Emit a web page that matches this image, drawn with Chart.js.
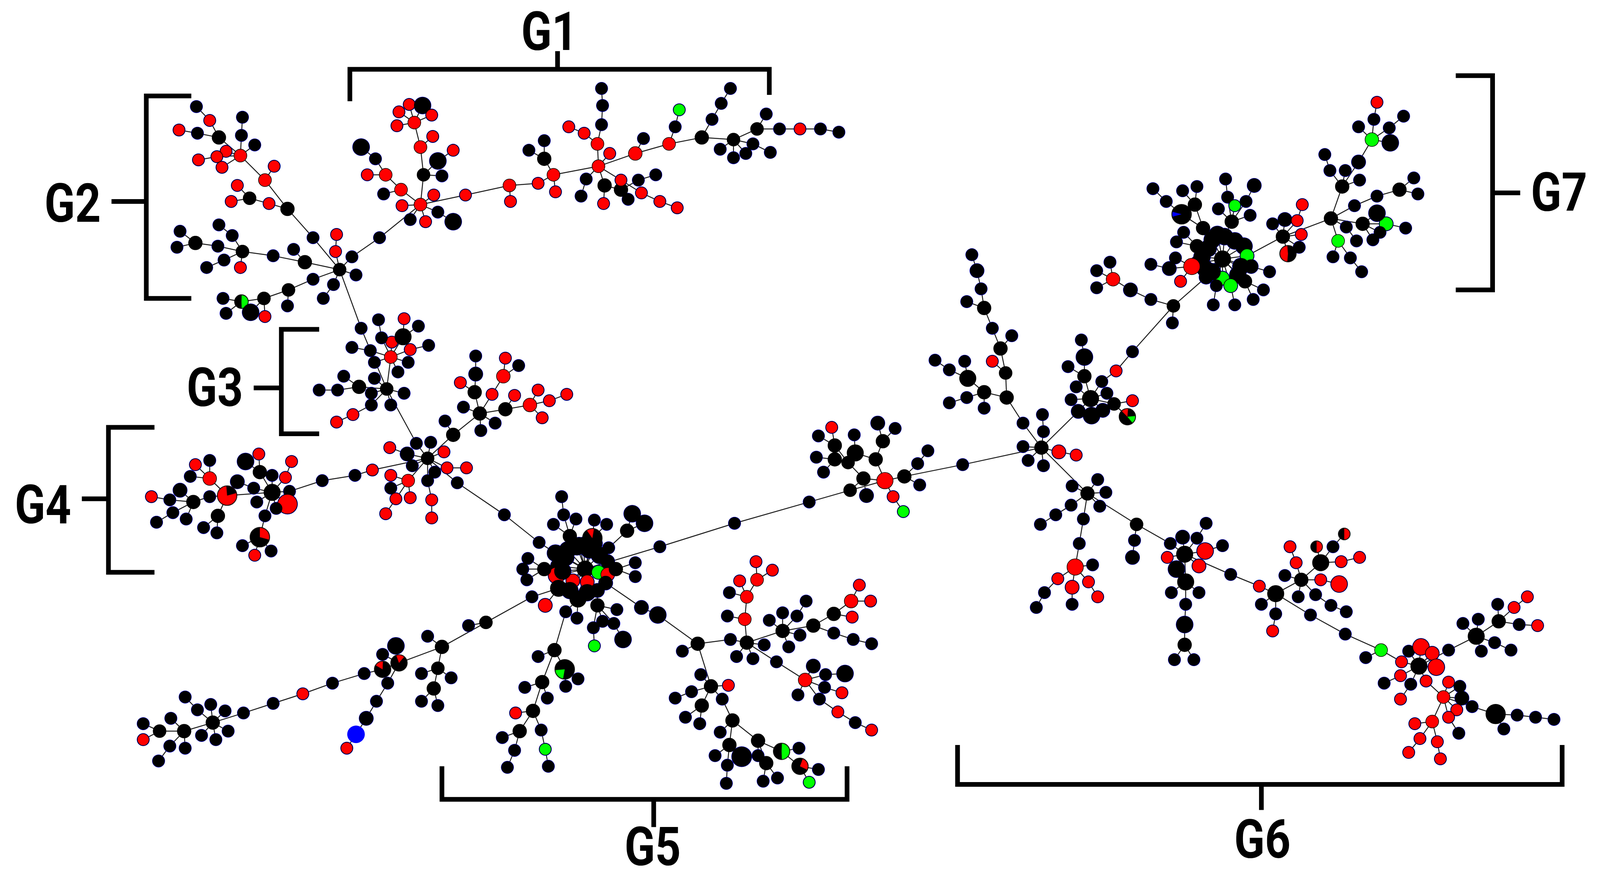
<!DOCTYPE html>
<html>
<head>
<meta charset="utf-8">
<style>html,body{margin:0;padding:0;background:#fff;overflow:hidden}canvas{display:block}</style>
<script src="https://cdn.jsdelivr.net/npm/chart.js@4"></script>
</head>
<body>
<canvas id="c"></canvas>
<script>
// Each chain is a path through the network: [x, y, kind, sizeClass]. Kinds: k r g b or a mixed-node name.
const chainsG2 = [
[[332,253],[306,223],[281,196,'k',2],[259,169,'r'],[235,146,'r']],
[[259,169],[268,156,'r']],
[[281,196],[263,191,'r'],[244,186],[232,174,'r']],
[[244,186],[226,189,'r']],
[[235,146],[236,127],[237,110]],
[[235,146],[249,136]],
[[235,146],[214,129,'k',2],[205,113,'r'],[192,100]],
[[214,129],[193,125],[175,122,'r']],
[[235,146],[221,142,'r']],
[[235,146],[212,147,'r'],[194,150,'r']],
[[235,146],[217,157,'r']],
[[332,253],[298,246,'k',2],[267,240],[237,236],[213,231],[191,228,'k',2],[176,217]],
[[191,228],[173,232]],
[[237,236],[227,221],[214,211]],
[[237,236],[219,244],[202,251]],
[[237,236],[235,251,'r']],
[[298,246],[287,234]],
[[332,253],[328,236,'r'],[329,220,'r']],
[[332,253],[348,258]],
[[332,253],[326,267],[316,280]],
[[332,253],[306,262],[282,272],[258,280],[236,283,'halfGreen',2],[218,280]],
[[236,283],[221,294]],
[[258,280],[245,293,'k',3]],
[[258,280],[259,297,'r']],
[[282,272],[281,287]]
];
const chainsG1 = [
[[332,253],[344,241],[371,223],[411,192,'r']],
[[411,192],[393,193,'r']],
[[411,192],[401,206]],
[[411,192],[416,208,'r']],
[[411,192],[428,199],[443,208,'k',3]],
[[411,192],[424,183,'r']],
[[411,192],[392,178,'r'],[377,164,'r'],[367,149],[353,138,'k',3]],
[[392,178],[375,182]],
[[377,164],[359,164,'r']],
[[411,192],[414,164],[411,138,'r'],[405,115,'r'],[400,98,'r']],
[[414,164],[432,165]],
[[414,164],[428,151,'k',3],[443,141,'r']],
[[411,138],[423,128,'r']],
[[405,115],[388,118,'r']],
[[405,115],[390,105,'r']],
[[405,115],[413,99,'k',3]],
[[405,115],[422,108,'r']],
[[411,192],[455,183,'r'],[498,174,'r'],[526,172,'r'],[541,164,'r'],[585,156,'r']],
[[498,174],[499,189,'r']],
[[541,164],[543,180,'r']],
[[541,164],[532,149,'k',2],[517,141]],
[[532,149],[532,132]],
[[585,156],[584,135,'r'],[588,117],[589,99],[588,83]],
[[584,135],[571,125,'r'],[556,119,'r']],
[[585,156],[596,144,'r']],
[[585,156],[621,144,'r',2],[654,135,'r'],[686,129,'k',2],[717,131],[740,121],[762,121],[782,121,'r'],[802,121],[820,124]],
[[621,144],[629,130]],
[[654,135],[660,119],[664,103,'g']],
[[686,129],[696,112],[705,97],[714,83]],
[[717,131],[704,140]],
[[717,131],[717,148]],
[[717,131],[729,144]],
[[717,131],[736,135],[753,143]],
[[740,121],[749,107]],
[[585,156],[573,168],[568,184]],
[[585,156],[591,174,'k',2],[590,191,'r']],
[[591,174],[607,178,'k',2],[614,187]],
[[585,156],[607,169,'r'],[627,181,'r'],[645,189,'r'],[662,195,'r']],
[[607,178],[624,169],[641,164]]
];
const chainsG3 = [
[[332,253],[353,308],[378,365],[407,416],[418,430]],
[[378,365],[382,335,'r']],
[[382,335],[362,329],[344,326]],
[[382,335],[366,340]],
[[382,335],[399,340]],
[[382,335],[389,349]],
[[382,335],[383,321,'r']],
[[382,335],[401,328,'r'],[419,324]],
[[382,335],[394,316,'k',3],[395,299,'r']],
[[394,316],[409,306]],
[[382,335],[373,317],[370,300]],
[[378,365],[351,363,'k',2],[330,366],[312,366]],
[[351,363],[336,353]],
[[378,365],[366,355]],
[[378,365],[395,369]],
[[378,365],[363,369]],
[[378,365],[363,380],[345,389,'r'],[329,396,'r']],
[[378,365],[382,380]]
];
const chainsG4 = [
[[418,430],[421,415]],
[[418,430],[398,426,'k',2],[381,420,'r']],
[[418,430],[434,424,'r']],
[[418,430],[403,437]],
[[418,430],[425,443]],
[[418,430],[437,439,'r'],[456,439,'r']],
[[418,430],[399,451,'r'],[382,446,'r']],
[[399,451],[382,458]],
[[399,451],[387,468,'r'],[377,482,'r']],
[[399,451],[401,467,'r']],
[[418,430],[418,451],[422,469,'r'],[422,486,'r']],
[[418,430],[447,453],[493,483],[527,509],[543,519,'k',3]],
[[418,430],[443,408,'k',2],[469,388,'k',2]],
[[443,408],[435,395]],
[[469,388],[453,382]],
[[469,388],[470,404]],
[[469,388],[484,397]],
[[469,388],[464,368,'k',2],[465,351,'k',2],[465,334]],
[[464,368],[450,359,'r']],
[[469,388],[481,370,'r'],[492,353,'r',2],[494,336,'r']],
[[492,353],[507,343]],
[[469,388],[494,384,'k',2],[518,380,'r',2],[526,366,'r']],
[[494,384],[503,371,'r']],
[[518,380],[537,376,'r'],[554,370,'r']],
[[518,380],[530,392,'r']],
[[418,430],[364,441,'r'],[347,446],[315,451],[283,461],[266,462,'k',3]],
[[266,462],[281,473,'r',4]],
[[266,462],[270,477]],
[[266,462],[279,448,'r'],[285,433,'r']],
[[266,462],[266,446]],
[[266,462],[254,443,'k',2],[253,426,'r']],
[[254,443],[240,433,'k',3]],
[[266,462],[248,458],[232,452,'k',2]],
[[266,462],[251,471]],
[[266,462],[259,484],[254,504,'wedgeB',4],[237,512]],
[[254,504],[265,517]],
[[254,504],[249,521,'r']],
[[266,462],[222,465,'wedgeA',4],[205,449,'r',2],[191,436,'r']],
[[205,449],[205,432]],
[[205,449],[186,447]],
[[222,465],[205,466],[189,471,'k',2],[176,460,'k',2]],
[[189,471],[166,469],[148,466,'r']],
[[189,471],[169,481],[153,490]],
[[189,471],[182,487]],
[[222,465],[213,484,'k',2],[199,495]],
[[213,484],[212,500]]
];
const ringCentral = [
[543,519,'k',3],[555,516,'k',3],[564,513,'k',3],[576,516,'k',3],[586,521,'k',3],[594,527,'k',2],
[545,531,'k',2],[544,540,'r',3],[560,545,'r',2],[574,546,'r',2],[585,537,'g',2],[594,539,'r',2],
[602,534,'k',2],[592,547,'k',2],[584,554,'k',2],[574,556,'k',3],[565,562,'k',3],[557,554,'k',3],[546,552,'k',3],
[553,523,'k',3],[566,512,'k',3],[578,513,'k',3],[550,536,'k',3],[570,512,'k',3],[582,510,'k',2]
];
const chainsG5 = [
[[545,531],[532,534,'k',2],[516,524]],
[[532,534],[511,534]],
[[532,534],[515,544]],
[[546,552],[533,568,'r',2]],
[[546,552],[520,560],[475,584,'k',1],[432,607,'k',2],[390,622,'wedgeC',3],[374,628,'wedgeD',3],[356,632],[325,641],[296,651,'r'],[267,660],[238,669],[208,678,'k',2]],
[[475,584],[458,587]],
[[432,607],[418,597]],
[[432,607],[428,627],[412,632]],
[[428,627],[441,636]],
[[428,627],[424,646,'k',2],[412,658]],
[[424,646],[428,662]],
[[390,622],[387,606,'k',3]],
[[390,622],[374,614]],
[[390,622],[379,641],[368,658],[358,674,'k',2],[348,689,'b',3],[339,702,'r']],
[[208,678],[193,666],[181,654]],
[[208,678],[206,661]],
[[208,678],[220,667]],
[[208,678],[223,686]],
[[208,678],[211,694]],
[[208,678],[197,690]],
[[208,678],[180,686,'k',2],[167,674]],
[[180,686],[156,686],[140,679]],
[[156,686],[140,694,'r']],
[[180,686],[166,700],[155,714]],
[[180,686],[181,702]],
[[555,516],[557,503,'k',2],[541,492]],
[[557,503],[551,483],[549,466]],
[[557,503],[563,487]],
[[576,516],[579,505,'wedgeE',4],[581,488]],
[[579,505],[593,492]],
[[586,521],[595,514],[613,498,'k',2],[618,482,'k',3]],
[[613,498],[630,491,'k',3]],
[[602,534],[621,528]],
[[602,534],[621,541]],
[[572,534],[645,513],[718,491],[791,471],[831,460],[865,451,'r',3]],
[[592,547],[627,570,'k',2],[643,577,'k',3],[682,604,'k',2]],
[[584,554],[584,568,'k',2],[603,572]],
[[584,568],[589,583]],
[[584,568],[600,585],[609,600,'k',3]],
[[584,568],[580,589],[581,606,'g']],
[[565,562],[553,574],[542,610,'k',2]],
[[565,562],[564,580]],
[[542,610],[526,616]],
[[542,610],[552,628,'wedgeF',4],[565,637]],
[[552,628],[553,644]],
[[542,610],[530,640,'k',2],[513,645]],
[[530,640],[535,655]],
[[530,640],[521,667,'k',2],[504,669,'r']],
[[521,667],[508,686,'k',2],[491,692]],
[[508,686],[503,704],[496,720]],
[[521,667],[529,685],[533,703,'g'],[536,719]],
[[682,604],[667,611]],
[[682,604],[714,600],[730,603,'k',2]],
[[730,603],[747,605]],
[[730,603],[720,616]],
[[730,603],[736,618]],
[[730,603],[728,581,'r'],[730,560,'r'],[713,556]],
[[728,581],[711,578]],
[[730,560],[723,545,'r']],
[[730,560],[740,544,'r'],[739,527,'r']],
[[740,544],[755,535,'r']],
[[730,603],[765,592,'k',2],[752,582]],
[[765,592],[765,575]],
[[765,592],[779,578],[788,564]],
[[765,592],[782,596]],
[[765,592],[771,607]],
[[765,592],[795,587,'k',2],[815,576,'k',2],[832,564,'r',2],[851,564,'r']],
[[832,564],[840,549,'r']],
[[815,576],[833,579,'r']],
[[795,587],[815,594],[834,600],[852,604]],
[[730,603],[759,621],[787,638,'r',2],[795,625,'k',2]],
[[787,638],[807,633],[826,632,'k',3]],
[[787,638],[806,645],[823,650,'r']],
[[787,638],[780,652]],
[[787,638],[801,656],[819,668,'r'],[836,678],[852,685,'r']],
[[682,604],[695,644,'k',2],[712,643,'r']],
[[695,644],[685,633]],
[[695,644],[676,649],[660,655]],
[[695,644],[686,662,'k',2],[670,673]],
[[686,662],[684,679]],
[[695,644],[706,656],[716,676,'k',2],[704,687]],
[[716,676],[713,699,'k',2],[699,709]],
[[713,699],[711,718],[710,735]],
[[716,676],[741,695,'k',2],[764,705,'halfGreen',3],[781,702]],
[[764,705],[782,719,'wedgeH',3],[800,722]],
[[782,719],[791,734,'g']],
[[741,695],[741,709],[725,710,'k',4]],
[[741,695],[749,716,'k',2],[746,733]],
[[749,716],[760,730]]
];
const chainsMid = [
[[865,451],[844,449,'k',2],[831,460]],
[[844,449],[847,465,'k',2]],
[[844,449],[829,434],[816,431,'k',2],[798,429]],
[[816,431],[805,443]],
[[829,434],[816,418,'k',2],[813,401,'r']],
[[816,418],[800,409]],
[[829,434],[836,425,'k',3],[835,408]],
[[836,425],[856,431,'k',2],[863,414,'k',2],[858,397,'k',2]],
[[863,414],[875,402]],
[[856,431],[865,451]],
[[865,451],[873,466,'r'],[883,480,'g']],
[[865,451],[884,447,'k',2],[897,435],[907,423]],
[[884,447],[899,455]],
[[884,447],[941,436],[1018,420,'k',2]]
];
const chainsG6 = [
[[1018,420],[1000,397],[984,373,'k',2],[962,368,'k',2],[946,355,'k',3],[928,347],[914,338]],
[[946,355],[943,339]],
[[962,368],[945,373],[928,378]],
[[962,368],[962,383]],
[[984,373],[983,350],[970,339,'r']],
[[983,350],[978,327,'k',2],[989,315]],
[[978,327],[970,308],[962,289,'k',2],[945,283]],
[[962,289],[959,271],[955,254,'k',2],[950,239]],
[[1018,420],[1020,405],[1019,389]],
[[1018,420],[1000,419]],
[[1018,420],[1005,432]],
[[1018,420],[1020,437]],
[[1018,420],[1035,424,'r',2],[1052,427,'r']],
[[1018,420],[1054,386,'k',2],[1066,374,'k',3]],
[[1066,374],[1047,375]],
[[1066,374],[1052,363]],
[[1066,374],[1082,369]],
[[1066,374],[1067,390,'k',3]],
[[1066,374],[1078,385,'k',2]],
[[1066,374],[1089,379],[1107,376,'r']],
[[1089,379],[1102,391,'wedgeI',3]],
[[1066,374],[1060,353,'k',2],[1044,344]],
[[1060,353],[1060,335,'k',3],[1057,319]],
[[1066,374],[1077,358],[1091,348,'r'],[1107,330],[1147,287]],
[[1147,287],[1146,303]],
[[1147,287],[1125,281],[1105,272,'k',2],[1088,262,'r',2],[1072,254]],
[[1088,262],[1085,246]],
[[1088,262],[1072,270]],
[[1018,420],[1063,463,'k',2],[1048,456]],
[[1063,463],[1073,450]],
[[1063,463],[1081,462]],
[[1063,463],[1075,475]],
[[1063,463],[1047,474],[1032,483],[1017,492]],
[[1063,463],[1059,487],[1055,510],[1051,532,'r',3],[1068,530]],
[[1051,532],[1034,543,'r'],[1021,556],[1013,570]],
[[1051,532],[1048,551,'r',2],[1048,567]],
[[1051,532],[1064,546,'r'],[1073,560,'r']],
[[1063,463],[1111,492],[1144,510],[1158,520,'k',3]],
[[1111,492],[1109,507],[1107,523,'k',2]],
[[1158,520],[1156,504,'k',2]],
[[1158,520],[1170,505],[1179,491]],
[[1158,520],[1178,517,'r',3],[1195,512]],
[[1158,520],[1141,523,'r']],
[[1158,520],[1150,534,'k',3]],
[[1158,520],[1172,531,'r',2]],
[[1158,520],[1159,546,'k',3],[1145,556]],
[[1159,546],[1172,556]],
[[1159,546],[1159,567],[1158,586,'k',3],[1158,605,'k',2],[1148,619]],
[[1158,605],[1167,619]],
[[1158,520],[1203,539],[1231,550,'r'],[1247,557,'k',3],[1233,567]],
[[1247,557],[1247,576],[1244,592,'r']],
[[1247,557],[1272,544,'k',2],[1256,540]],
[[1272,544],[1267,528,'r'],[1261,513,'r']],
[[1272,544],[1291,528,'k',3],[1287,513,'halfRed']],
[[1291,528],[1303,513],[1314,501,'halfRed']],
[[1291,528],[1311,527,'r'],[1329,523,'r']],
[[1272,544],[1291,544,'r'],[1309,548,'r',3]],
[[1272,544],[1286,558],[1301,568],[1316,574]],
[[1272,544],[1269,560]],
[[1247,557],[1281,577],[1315,595],[1350,610,'g'],[1335,617]],
[[1350,610],[1370,621,'r'],[1387,625,'k',3]],
[[1387,625],[1377,611]],
[[1387,625],[1389,607,'r',3]],
[[1387,625],[1400,613,'r',2]],
[[1387,625],[1404,626,'r',3]],
[[1387,625],[1369,634,'r'],[1353,641]],
[[1387,625],[1379,642],[1369,656,'r']],
[[1387,625],[1394,639,'r'],[1411,654,'r']],
[[1387,625],[1416,610],[1443,597,'k',3],[1430,585]],
[[1443,597],[1445,581]],
[[1443,597],[1465,583,'k',2],[1464,567]],
[[1465,583],[1480,570,'r'],[1493,560,'r']],
[[1465,583],[1485,586],[1503,587,'r']],
[[1443,597],[1461,603],[1477,610]],
[[1443,597],[1448,611]],
[[1411,654],[1416,640,'r']],
[[1411,654],[1427,644]],
[[1411,654],[1429,655,'k',2]],
[[1411,654],[1439,663],[1462,670,'k',4],[1483,671],[1501,673],[1519,675]],
[[1462,670],[1470,684]],
[[1411,654],[1424,666,'r']],
[[1411,654],[1416,673,'r'],[1426,688]],
[[1411,654],[1400,677,'r'],[1383,679,'r']],
[[1400,677],[1388,693,'r'],[1377,706,'r']],
[[1400,677],[1405,696,'r'],[1408,712,'r']]
];
const ringG7 = [
[1185,225,'k',3],[1197,222,'k',3],[1207,226,'k',3],[1216,231,'k',3],[1219,240,'g',2],[1213,250,'k',3],[1210,258,'k',3],
[1195,261,'g',2],[1185,255,'k',3],[1179,260,'k',2],[1178,252,'k',3],[1175,241,'k',3],[1181,233,'k',3],[1190,220,'k',3],[1172,247,'k',3],
[1203,268,'g',2],[1189,268],[1217,264,'k',2],[1223,250,'k',2]
];
const chainsG7 = [
[[1147,287],[1179,260]],
[[1181,233],[1176,214,'k',2],[1155,201,'wedgeL',4],[1140,189],[1127,177]],
[[1176,214],[1168,192,'k',2],[1156,179]],
[[1168,192],[1170,175]],
[[1197,222],[1204,208,'k',2],[1200,185],[1198,168]],
[[1204,208],[1207,193,'g']],
[[1204,208],[1218,189],[1226,174,'k',2]],
[[1204,208],[1191,196]],
[[1204,208],[1222,202]],
[[1175,241],[1170,231,'k',2],[1157,218]],
[[1170,231],[1150,227]],
[[1178,252],[1165,250,'r',3],[1149,242]],
[[1165,250],[1143,252,'k',2],[1125,248]],
[[1165,250],[1154,264,'r']],
[[1203,268],[1207,286]],
[[1189,268],[1186,286]],
[[1217,264],[1235,272]],
[[1217,264],[1225,281]],
[[1223,250],[1241,255]],
[[1219,240],[1254,222,'k',2],[1244,210]],
[[1254,222],[1256,206,'k',2]],
[[1254,222],[1268,207,'r'],[1273,192,'r']],
[[1254,222],[1272,220,'r']],
[[1254,222],[1270,232]],
[[1254,222],[1259,238,'halfRedLeft',3]],
[[1254,222],[1301,205,'k',2],[1312,175,'k',2],[1300,160],[1295,145]],
[[1312,175],[1315,160]],
[[1312,175],[1329,169]],
[[1312,175],[1328,152,'k',2],[1341,131,'g',2],[1328,119]],
[[1341,131],[1343,112],[1346,96,'r']],
[[1341,131],[1358,120],[1372,109]],
[[1341,131],[1359,134,'k',3]],
[[1301,205],[1324,193],[1346,184],[1368,178,'k',2],[1382,167]],
[[1368,178],[1386,182]],
[[1301,205],[1332,210,'k',2],[1355,210,'g',2],[1374,214]],
[[1332,210],[1346,200,'k',3]],
[[1332,210],[1349,218]],
[[1332,210],[1342,225]],
[[1301,205],[1316,213],[1326,226]],
[[1301,205],[1308,226,'g'],[1303,241]],
[[1308,226],[1320,242],[1331,255]]
];
const groupLabels = ['G1','G2','G3','G4','G5','G6','G7'];
const groupLabelX = [537,71,210,42,638,1234,1524];
const groupLabelBase = [47,208,381,491,812,805,198];
const bracketPaths = [
[[342,95],[342,65],[752,65],[752,89]],[[545,48],[545,65]],
[[187,90],[143,90],[143,280],[187,280]],[[109,189],[143,189]],
[[312,309],[275,309],[275,407],[312,407]],[[248,364],[275,364]],
[[151,401],[106,401],[106,537],[151,537]],[[80,468],[106,468]],
[[432,719],[432,750],[828,750],[828,719]],[[639,750],[639,776]],
[[936,699],[936,736],[1527,736],[1527,699]],[[1233,736],[1233,760]],
[[1423,71],[1459,71],[1459,272],[1423,272]],[[1459,181],[1486,181]]
];
const mixedNodes = {
  halfGreen:{base:'#000',cuts:[['#00ff00',-88,88]]},
  halfRed:{base:'#000',cuts:[['#ff0000',-90,90]]},
  halfRedLeft:{base:'#000',cuts:[['#ff0000',95,265]]},
  wedgeA:{base:'#ff0000',cuts:[['#000',-95,-15]]},
  wedgeB:{base:'#000',cuts:[['#ff0000',-90,15]]},
  wedgeC:{base:'#000',cuts:[['#ff0000',-110,-50]]},
  wedgeD:{base:'#000',cuts:[['#ff0000',-150,-88]]},
  wedgeE:{base:'#000',cuts:[['#ff0000',-125,-80]]},
  wedgeF:{base:'#000',cuts:[['#00ff00',100,175]]},
  wedgeH:{base:'#000',cuts:[['#ff0000',-70,25]]},
  wedgeI:{base:'#000',cuts:[['#ff0000',-135,-85],['#00ff00',-5,50]]},
  wedgeL:{base:'#000',cuts:[['#0000ff',165,195]]}
};
const sizeRadius = {1:15,2:17.5,3:21,4:25};
const kindColor = {k:'#000000',r:'#ff0000',g:'#00ff00',b:'#0000ff'};

// Build the network from the chains
const nodes = new Map(), edges = [];
function touch(p){
  const key = p[0]+','+p[1];
  let n = nodes.get(key);
  if(!n){ n = {x:p[0],y:p[1],kind:'k',size:1,deg:0}; nodes.set(key,n); }
  if(p[2]) n.kind = p[2];
  if(p[3]) n.size = p[3];
  return n;
}
function link(a,b){ const n1=touch(a), n2=touch(b); n1.deg++; n2.deg++; edges.push([n1,n2]); }
[[572,534,'k',3],[1195,243,'k',3]].forEach(touch);
ringCentral.forEach(p=>link([572,534],p));
ringG7.forEach(p=>link([1195,243],p));
[chainsG2,chainsG1,chainsG3,chainsG4,chainsG5,chainsMid,chainsG6,chainsG7].forEach(group=>{
  group.forEach(ch=>{ for(let i=1;i<ch.length;i++) link(ch[i-1],ch[i]); });
});
const nodeList = [...nodes.values()];
const radiusOf = n => Math.max(sizeRadius[n.size], n.deg>=3 ? 16.5 : 0);
function mixedStyle(name,r){
  const m = mixedNodes[name], c = document.createElement('canvas'), s = Math.ceil(2*r+6);
  c.width = c.height = s;
  const g = c.getContext('2d'), o = s/2;
  g.fillStyle = m.base; g.beginPath(); g.arc(o,o,r,0,Math.PI*2); g.fill();
  m.cuts.forEach(cut=>{
    g.fillStyle = cut[0]; g.beginPath(); g.moveTo(o,o);
    g.arc(o,o,r-1,cut[1]*Math.PI/180,cut[2]*Math.PI/180); g.closePath(); g.fill();
  });
  g.strokeStyle='#000'; g.lineWidth=2; g.beginPath(); g.arc(o,o,r,0,Math.PI*2); g.stroke();
  return c;
}
const nodePoints = nodeList.map(n=>({x:n.x,y:n.y}));
const nodeRadii = nodeList.map(radiusOf);
const nodeFill = nodeList.map(n=>kindColor[n.kind]||'#000');
const nodeStyle = nodeList.map((n,i)=>mixedNodes[n.kind]?mixedStyle(n.kind,nodeRadii[i]):'circle');
const nodeBorder = nodeList.map(n=>n.kind==='b'?'#0000ff':'#000000');
const leafList = nodeList.filter(n=>n.deg<3 && !mixedNodes[n.kind]);
const edgeData = [];
edges.forEach(e=>{ edgeData.push({x:e[0].x,y:e[0].y},{x:e[1].x,y:e[1].y},{x:NaN,y:NaN}); });
const bracketData = [];
bracketPaths.forEach(path=>{ path.forEach(p=>bracketData.push({x:p[0],y:p[1]})); bracketData.push({x:NaN,y:NaN}); });

const labelPlugin = {
  id:'groupLabels',
  afterDatasetsDraw(chart){
    const g = chart.ctx, xs = chart.scales.x, ys = chart.scales.y;
    groupLabels.forEach((t,i)=>{
      g.save();
      g.translate(xs.getPixelForValue(groupLabelX[i]),ys.getPixelForValue(groupLabelBase[i]));
      g.scale(0.84,1);
      g.fillStyle='#000'; g.textAlign='center'; g.textBaseline='alphabetic';
      g.font='bold 137px Roboto,"Liberation Sans",sans-serif';
      g.fillText(t,0,0);
      g.restore();
    });
  }
};
const canvasEl = document.getElementById('c');
canvasEl.width = window.innerWidth;
canvasEl.height = window.innerHeight;
new Chart(canvasEl,{
  type:'scatter',
  data:{datasets:[
    {label:'nodes',data:nodePoints,order:1,showLine:false,pointRadius:nodeRadii,pointStyle:nodeStyle,pointBackgroundColor:nodeFill,pointBorderColor:nodeBorder,pointBorderWidth:1.5},
    {label:'halo',data:leafList.map(n=>({x:n.x,y:n.y})),order:2,showLine:false,pointRadius:leafList.map(n=>radiusOf(n)+1.5),pointBackgroundColor:'#0000ff',pointBorderWidth:0},
    {label:'edges',data:edgeData,order:3,showLine:true,spanGaps:false,pointRadius:0,borderColor:'#1c1c1c',borderWidth:2.5},
    {label:'brackets',data:bracketData,order:4,showLine:true,spanGaps:false,pointRadius:0,borderColor:'#000000',borderWidth:12,borderJoinStyle:'miter',borderCapStyle:'butt'}
  ]},
  options:{
    responsive:false,animation:false,devicePixelRatio:1,events:[],
    layout:{padding:0,autoPadding:false},
    plugins:{legend:{display:false},tooltip:{enabled:false},title:{display:false}},
    scales:{
      x:{type:'linear',min:0,max:1564,display:false},
      y:{type:'linear',min:0,max:821,reverse:true,display:false}
    }
  },
  plugins:[labelPlugin]
});
</script>
</body>
</html>
